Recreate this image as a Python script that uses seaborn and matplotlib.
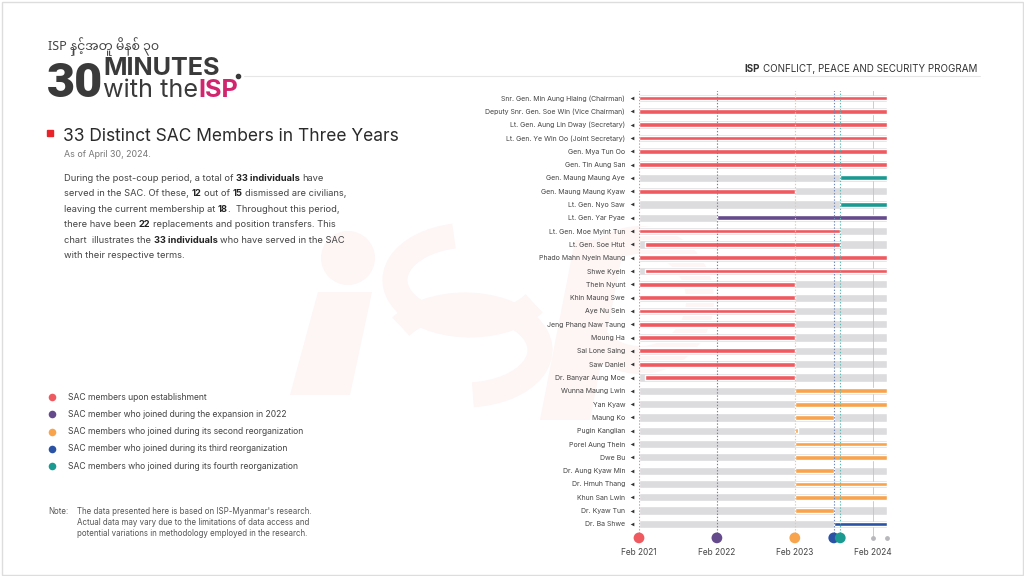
import matplotlib
matplotlib.use("Agg")
import matplotlib.pyplot as plt
import seaborn as sns
import pandas as pd
from matplotlib.patches import Rectangle, Circle, Polygon, Arc

# months counted from Feb 2021
END = 38.2

names = [
    "Snr. Gen. Min Aung Hlaing (Chairman)",
    "Deputy Snr. Gen. Soe Win (Vice Chairman)",
    "Lt. Gen. Aung Lin Dway (Secretary)",
    "Lt. Gen. Ye Win Oo (Joint Secretary)",
    "Gen. Mya Tun Oo",
    "Gen. Tin Aung San",
    "Gen. Maung Maung Aye",
    "Gen. Maung Maung Kyaw",
    "Lt. Gen. Nyo Saw",
    "Lt. Gen. Yar Pyae",
    "Lt. Gen. Moe Myint Tun",
    "Lt. Gen. Soe Htut",
    "Phado Mahn Nyein Maung",
    "Shwe Kyein",
    "Thein Nyunt",
    "Khin Maung Swe",
    "Aye Nu Sein",
    "Jeng Phang Naw Taung",
    "Moung Ha",
    "Sai Lone Saing",
    "Saw Daniel",
    "Dr. Banyar Aung Moe",
    "Wunna Maung Lwin",
    "Yan Kyaw",
    "Maung Ko",
    "Pugin Kanglian",
    "Porel Aung Thein",
    "Dwe Bu",
    "Dr. Aung Kyaw Min",
    "Dr. Hmuh Thang",
    "Khun San Lwin",
    "Dr. Kyaw Tun",
    "Dr. Ba Shwe",
]
group = (["est"] * 6 + ["r4", "est", "r4", "exp"] + ["est"] * 12
         + ["r2"] * 10 + ["r3"])
start = [0, 0, 0, 0, 0, 0, 31, 0, 31, 12, 0, 1, 0, 1,
         0, 0, 0, 0, 0, 0, 0, 1,
         24, 24, 24, 24, 24, 24, 24, 24, 24, 24, 30]
end = [END] * 6 + [END, 24, END, END, 31, 31, END, END,
                   24, 24, 24, 24, 24, 24, 24, 24,
                   END, END, 30, 24.5, END, END, 30, END, END, 30, END]

tick_pos = [0, 12, 24, 36]
tick_labels = ["Feb 2021", "Feb 2022", "Feb 2023", "Feb 2024"]
event_pos = [0, 12, 24, 30, 31]
event_group = ["est", "exp", "r2", "r3", "r4"]

legend_labels = [
    "SAC members upon establishment",
    "SAC member who joined during the expansion in 2022",
    "SAC members who joined during its second reorganization",
    "SAC member who joined during its third reorganization",
    "SAC members who joined during its fourth reorganization",
]

colors = {"est": "#ef5a61", "exp": "#654a8c", "r2": "#f8a44c",
          "r3": "#2a52a5", "r4": "#1b9a92"}
line_colors = {"est": "#f08a8f", "exp": "#7a7f99", "r2": "#f8c48c",
               "r3": "#6f86b8", "r4": "#5cbab4"}

sns.set_theme(style="white")
plt.rcParams["font.family"] = ["Inter", "DejaVu Sans"]

fig = plt.figure(figsize=(10.24, 5.76), dpi=100)
fig.patch.set_facecolor("white")

# full-figure overlay in pixel coordinates
bg = fig.add_axes([0, 0, 1, 1])
bg.set_xlim(0, 1024)
bg.set_ylim(576, 0)
bg.axis("off")
bg.add_patch(Rectangle((1.5, 1.5), 1021, 573, fill=False, ec="#dddddd", lw=1))

# faint logo watermark drawn as shapes
wm = "#fef5f5"
bg.add_patch(Circle((348, 258), 27, color=wm, lw=0, zorder=0))
bg.add_patch(Polygon([(318, 292), (372, 292), (350, 395), (290, 395)], color=wm, lw=0, zorder=0))
bg.add_patch(Arc((470, 280), 150, 90, theta1=20, theta2=250, color=wm, lw=18, zorder=0))
bg.add_patch(Arc((465, 350), 150, 90, theta1=-160, theta2=80, color=wm, lw=18, zorder=0))
bg.add_patch(Polygon([(575, 240), (625, 240), (590, 420), (540, 420)], color=wm, lw=0, zorder=0))
bg.add_patch(Arc((640, 300), 120, 120, theta1=0, theta2=360, color=wm, lw=20, zorder=0))

renderer = fig.canvas.get_renderer()


def tw(s, size, bold):
    t = bg.text(0, 0, s, fontsize=size, fontweight="bold" if bold else "normal")
    w = t.get_window_extent(renderer).width
    t.remove()
    return w


def rich(x, y, parts, size, color, bold_color=None, align="left"):
    sp = tw("a a", size, False) - tw("aa", size, False)
    widths = []
    for s, b in parts:
        lead = len(s) - len(s.lstrip(" "))
        trail = len(s) - len(s.rstrip(" "))
        core = s.strip(" ")
        widths.append((lead, core, trail, tw(core, size, b) if core else 0))
    total = sum(l * sp + w + t * sp for l, c, t, w in widths)
    xx = x - total if align == "right" else x
    for (s, b), (lead, core, trail, w) in zip(parts, widths):
        xx += lead * sp
        if core:
            bg.text(xx, y, core, fontsize=size, va="baseline",
                    fontweight="bold" if b else "normal",
                    color=(bold_color or color) if b else color)
        xx += w + trail * sp


# header
bg.text(48, 50, "ISP နှင့်အတူ မိနစ် ၃၀", fontsize=9, color="#444444",
        va="baseline", family=["Noto Sans Myanmar", "Padauk", "Inter", "DejaVu Sans"])
bg.text(47, 97, "30", fontsize=35, fontweight="black", color="#3a3a3a",
        va="baseline", family=["Roboto", "Inter", "DejaVu Sans"])
bg.text(103, 75, "MINUTES", fontsize=18.2, fontweight="bold", color="#3a3a3a", va="baseline")
rich(103, 97, [("with the", False), ("ISP", True)], 18.2, "#3a3a3a", bold_color="#d1256f")
bg.plot([244, 980], [76, 76], color="#e6e6e6", lw=0.8)
bg.scatter([238], [76], s=9, color="#3a3a3a")
rich(977, 72, [("ISP", True), (" CONFLICT, PEACE AND SECURITY PROGRAM", False)],
     7.05, "#333333", align="right")

# title block
bg.add_patch(Rectangle((47, 130), 6, 6, color="#e8232a"))
bg.text(63, 141, "33 Distinct SAC Members in Three Years", fontsize=12.5,
        color="#2a2a2a", va="baseline")
bg.text(64, 157, "As of April 30, 2024.", fontsize=6.4, color="#777777", va="baseline")

para = [
    [("During the post-coup period, a total of ", False), ("33 individuals", True), (" have", False)],
    [("served in the SAC. Of these, ", False), ("12", True), (" out of ", False), ("15", True),
     (" dismissed are civilians,", False)],
    [("leaving the current membership at ", False), ("18", True), (".  Throughout this period,", False)],
    [("there have been ", False), ("22", True), (" replacements and position transfers. This", False)],
    [("chart  illustrates the ", False), ("33 individuals", True), (" who have served in the SAC", False)],
    [("with their respective terms.", False)],
]
for i, parts in enumerate(para):
    rich(64, 181 + i * 15.4, parts, 6.7, "#444444", bold_color="#222222")

# legend
for i, (g, lab) in enumerate(zip(event_group, legend_labels)):
    y = 397 + i * 17.3
    bg.scatter([52], [y], s=30, color=colors[g], linewidths=0)
    bg.text(68, y, lab, fontsize=6.2, color="#444444", va="center")

bg.text(48, 511, "Note:", fontsize=5.7, color="#555555", va="center")
note = ["The data presented here is based on ISP-Myanmar's research.",
        "Actual data may vary due to the limitations of data access and",
        "potential variations in methodology employed in the research."]
for i, s in enumerate(note):
    bg.text(77, 511 + i * 11.5, s, fontsize=5.7, color="#555555", va="center")

# chart
row_h = 13.31
top_px = 98 - row_h / 2
bot_px = top_px + 34 * row_h
ax = fig.add_axes([639 / 1024, 1 - bot_px / 576, (887 - 639) / 1024, (bot_px - top_px) / 576])
ax.patch.set_alpha(0)

df = pd.DataFrame({"name": names, "span": [END] * len(names)})
sns.barplot(data=df, y="name", x="span", color="#dcdcdf", width=0.62,
            orient="h", ax=ax, saturation=1, zorder=1)

ax.barh(range(len(names)), [e - s for s, e in zip(start, end)], left=start,
        height=0.36, color=[colors[g] for g in group], zorder=3)

for g, x in zip(event_group, event_pos):
    ax.vlines(x, -0.6, 33, colors=line_colors[g], linestyles=(0, (1.2, 1.6)), lw=0.8, zorder=4)
ax.vlines(36, -0.6, 33, colors="#c4c4c8", lw=0.6, zorder=2)

ax.scatter(event_pos, [33.05] * len(event_pos), s=60,
           color=[colors[g] for g in event_group], zorder=5, clip_on=False, linewidths=0)
ax.scatter([36, END], [33.05, 33.05], s=6, color="#b8b8bc", zorder=5, clip_on=False)

ax.scatter([-0.028] * len(names), range(len(names)), marker="<", s=7, color="#333333",
           transform=ax.get_yaxis_transform(), clip_on=False, linewidths=0)

ax.set_xlim(0, END)
ax.set_ylim(33.5, -0.5)
ax.set_yticks(range(len(names)))
ax.set_yticklabels(names, fontsize=5.0, color="#444444")
ax.set_xticks(tick_pos)
ax.set_xticklabels(tick_labels, fontsize=6, color="#444444")
ax.tick_params(axis="y", length=0, pad=10)
ax.tick_params(axis="x", length=0, pad=3)
ax.set_xlabel("")
ax.set_ylabel("")
for sp in ax.spines.values():
    sp.set_visible(False)

fig.savefig("out.png", dpi=100)
